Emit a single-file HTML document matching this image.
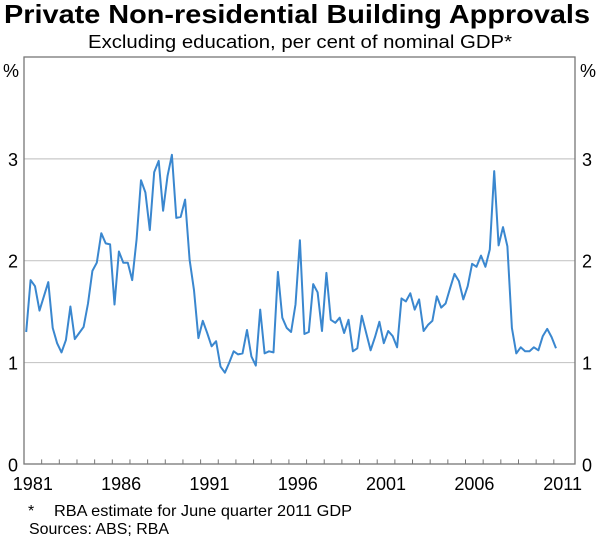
<!DOCTYPE html>
<html><head><meta charset="utf-8"><style>
body{margin:0;background:#fff;}
svg{display:block;font-family:"Liberation Sans",Arial,sans-serif;}
</style></head><body>
<svg id="chart" width="600" height="539" viewBox="0 0 600 539">
<text x="297" y="23" text-anchor="middle" font-size="26" font-weight="bold" fill="#000" textLength="586" lengthAdjust="spacingAndGlyphs">Private Non-residential Building Approvals</text>
<text x="300" y="48" text-anchor="middle" font-size="18" fill="#000" textLength="424" lengthAdjust="spacingAndGlyphs">Excluding education, per cent of nominal GDP*</text>
<text x="3" y="77" font-size="18">%</text>
<text x="580" y="77" font-size="18">%</text>
<g id="grid"></g>
<g id="ticks"></g>
<g id="ylabels"></g>
<g id="xlabels"></g>
<path id="line" fill="none" stroke="#3a87cf" stroke-width="2" stroke-linejoin="round"/>
<rect x="24" y="57" width="551" height="407" fill="none" stroke="#777" stroke-width="1.3"/>
<text x="28" y="516" font-size="16">*</text>
<text x="54" y="516" font-size="16" textLength="298" lengthAdjust="spacingAndGlyphs">RBA estimate for June quarter 2011 GDP</text>
<text x="29" y="534" font-size="16" textLength="140" lengthAdjust="spacingAndGlyphs">Sources: ABS; RBA</text>
</svg>
<script>
const startYear = 1981;
const values = [1.30,1.81,1.75,1.51,1.65,1.79,1.34,1.19,1.10,1.22,1.55,1.23,1.29,1.35,1.58,1.90,1.98,2.27,2.17,2.16,1.57,2.09,1.98,1.98,1.81,2.21,2.79,2.67,2.30,2.87,2.98,2.49,2.83,3.04,2.42,2.43,2.60,2.01,1.71,1.24,1.41,1.29,1.16,1.21,0.96,0.90,1.00,1.11,1.08,1.09,1.32,1.06,0.97,1.52,1.09,1.11,1.10,1.89,1.44,1.34,
1.30,1.57,2.20,1.28,1.30,1.77,1.69,1.31,1.88,1.42,1.39,1.44,1.29,1.42,1.11,1.14,1.46,1.29,1.12,1.25,1.40,1.19,1.31,1.26,1.15,1.63,1.60,1.68,1.52,1.62,1.31,1.37,1.41,1.65,1.54,1.58,1.73,1.87,1.80,1.62,1.75,1.97,1.94,2.05,1.94,2.11,2.88,2.15,2.33,2.14,1.34,1.09,1.15,1.11,1.11,1.15,1.12,1.26,1.33,1.25,1.14];
const yTicks = [0,1,2,3];
const xTickLabels = ["1981","1986","1991","1996","2001","2006","2011"];
const ns="http://www.w3.org/2000/svg";
const x0=24,x1=575,y0=464.4,yTop=57;
function xs(t){return x0+(t-1981)/(2012.2-1981)*(x1-x0);}
function ys(v){return y0-v*(y0-yTop)/4;}
function mk(tag,attrs,parent){const e=document.createElementNS(ns,tag);for(const k in attrs)e.setAttribute(k,attrs[k]);document.getElementById(parent).appendChild(e);return e;}
yTicks.forEach(v=>{
  if(v>0){const g=mk('line',{x1:x0,x2:x1,y1:ys(v),y2:ys(v),stroke:'#c8c8c8','stroke-width':1.2},'grid');
  
  }
  const a=mk('text',{x:13,y:ys(v)+7,'text-anchor':'middle','font-size':18},'ylabels');a.textContent=v;
  
  
  const b=mk('text',{x:587,y:ys(v)+7,'text-anchor':'middle','font-size':18},'ylabels');b.textContent=v;
  
  
});
for(let y=1982;y<=2011;y++){
  const t=mk('line',{x1:xs(y),x2:xs(y),y1:y0,y2:y0-5,stroke:'#777','stroke-width':1},'ticks');
  
  
}
xTickLabels.forEach(l=>{
  const t=mk('text',{x:xs(+l+0.5),y:490,'text-anchor':'middle','font-size':18},'xlabels');t.textContent=l;
  
  
});
let d='';
values.forEach((v,i)=>{const t=startYear+i*0.25+0.125;d+=(i?'L':'M')+xs(t).toFixed(1)+','+ys(v).toFixed(1);});
document.getElementById('line').setAttribute('d',d);
</script>
</body></html>
